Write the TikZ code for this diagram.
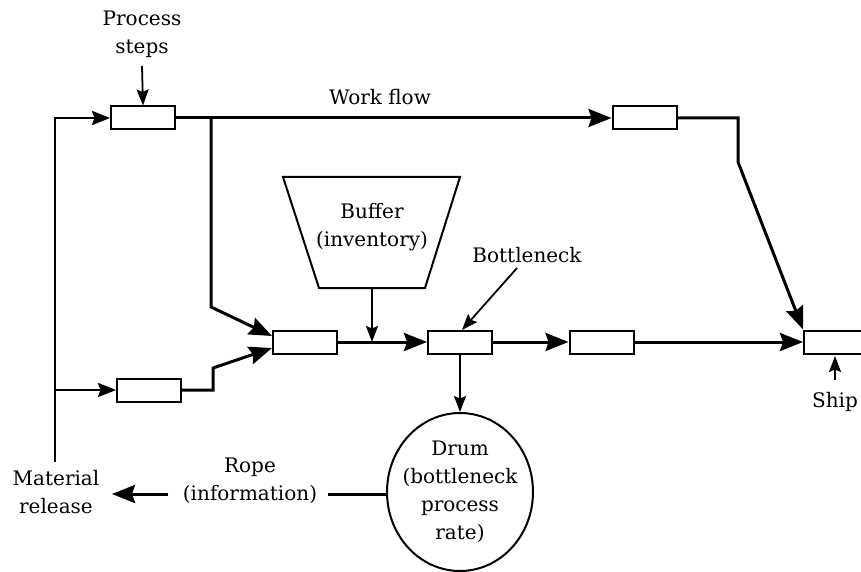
\documentclass[tikz,border=0pt]{standalone}
\usepackage{fontspec}
\setmainfont{DejaVu Serif}
\usetikzlibrary{arrows.meta,shapes.geometric}
\tikzset{
  pbox/.style={draw,line width=2pt,minimum width=64pt,minimum height=23pt,inner sep=0pt,fill=white},
  flow/.style={line width=3pt,-{Stealth[length=23pt,width=18pt,inset=3pt]}},
  flowsm/.style={line width=2.6pt,-{Stealth[length=18pt,width=14pt,inset=2.5pt]}},
  flowplain/.style={line width=3pt},
  small/.style={line width=1.8pt,-{Stealth[length=16pt,width=12pt,inset=2.5pt]}},
  lbl/.style={align=center,inner sep=0pt,font=\fontsize{20}{28}\selectfont},
}
\begin{document}
\begin{tikzpicture}[x=1pt,y=-1pt,line join=miter]
\useasboundingbox (0,0) rectangle (861,572);
\clip (0,0) rectangle (861,572);
% boxes
\node[pbox] (b1) at (143,118) {};
\node[pbox] (b2) at (644.5,118) {};
\node[pbox] (b3) at (305,342) {};
\node[pbox] (b4) at (149,390) {};
\node[pbox] (b5) at (460,342) {};
\node[pbox] (b6) at (601.5,342) {};
\node[pbox,minimum width=66pt,anchor=west] (ship) at (803,342) {};
% buffer
\coordinate (btl) at (283,177);
\coordinate (btr) at (460,177);
\coordinate (bbr) at (425,288);
\coordinate (bbl) at (319,288);
\draw[line width=2pt] (btl) -- (btr) -- (bbr) -- (bbl) -- cycle;
\node[lbl] (buf) at (372,227) {Buffer\\(inventory)};
\coordinate (bufb) at (372,288);
% drum
\node[draw,ellipse,line width=2pt,minimum width=146pt,minimum height=158pt,inner sep=0pt] (drum) at (460,492) {};
\node[lbl] (drumtxt) at (460,492) {Drum\\(bottleneck\\process\\rate)};
% labels
\node[lbl] (ps) at (142,34) {Process\\steps};
\node[lbl] (wf) at (380,97) {Work flow};
\node[lbl] (bn) at (527,255) {Bottleneck};
\node[lbl] (shiptxt) at (835,402) {Ship};
\node[lbl] (mr) at (56,492) {Material\\release};
\node[lbl] (rope) at (250,481) {Rope\\(information)};
% coordinates
\coordinate (lbot) at (55,462);
\coordinate (j4) at (55,390);
\coordinate (psa) at (142,66);
\coordinate (br1) at (211,118);
\coordinate (br2) at (211,307);
\coordinate (b3in1) at (272,336);
\coordinate (b3in2) at (272,348);
\coordinate (s1) at (213,390);
\coordinate (s2) at (213,368);
\coordinate (r1) at (738,118);
\coordinate (r2) at (738,162);
\coordinate (bna) at (517,268);
\coordinate (bnt) at (462,330);
\coordinate (sha) at (835,380);
\coordinate (shb) at (835,356);
\coordinate (ropeA) at (328,494);
\coordinate (ropeB) at (168,494);
\coordinate (ropeC) at (112,494);
\coordinate (bufj) at (372,342);
% connectors
\draw[small] (psa) -- (b1.north);
\draw[flowsm] (lbot) |- (b1.west);
\draw[flowsm] (j4) -- (b4.west);
\draw[flow] (b1.east) -- (b2.west);
\draw[flow] (br1) -- (br2) -- (b3in1);
\draw[flow] (b4.east) -- (s1) -- (s2) -- (b3in2);
\draw[flow] (b2.east) -- (r1) -- (r2) -- (ship.north west);
\draw[flow] (b3.east) -- (b5.west);
\draw[small] (bufb) -- (bufj);
\draw[flow] (b5.east) -- (b6.west);
\draw[flow] (b6.east) -- (ship.west);
\draw[small] (b5.south) -- (drum.north);
\draw[small] (bna) -- (bnt);
\draw[small] (sha) -- (shb);
\draw[flowplain] (drum.west |- ropeA) -- (ropeA);
\draw[flow] (ropeB) -- (ropeC);
\end{tikzpicture}
\end{document}
